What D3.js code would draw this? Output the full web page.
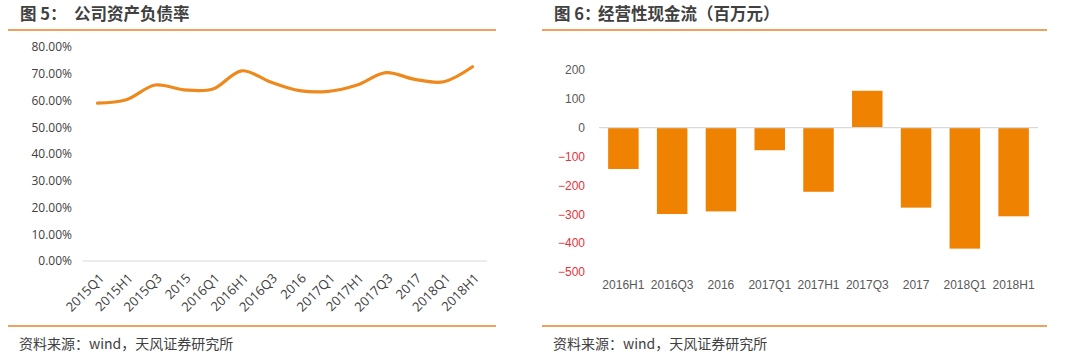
<!DOCTYPE html>
<html><head><meta charset="utf-8">
<script src="https://cdn.jsdelivr.net/npm/d3@7"></script>
<style>
html,body{margin:0;padding:0;background:#fff;}
svg{display:block;}
</style></head>
<body>
<svg id="chart" width="1080" height="357"></svg>
<script>
// ---- Data ----
const debtCategories = ["2015Q1","2015H1","2015Q3","2015","2016Q1","2016H1","2016Q3","2016","2017Q1","2017H1","2017Q3","2017","2018Q1","2018H1"];
const debtRatio = [0.590, 0.603, 0.658, 0.640, 0.643, 0.711, 0.669, 0.637, 0.634, 0.658, 0.704, 0.679, 0.670, 0.726];
const debtTicks = [0, 0.1, 0.2, 0.3, 0.4, 0.5, 0.6, 0.7, 0.8];

const cashCategories = ["2016H1","2016Q3","2016","2017Q1","2017H1","2017Q3","2017","2018Q1","2018H1"];
const cashFlow = [-143, -299, -290, -78, -222, 128, -277, -419, -307];
const cashTicks = [200, 100, 0, -100, -200, -300, -400, -500];

const titles = [
  {a:"图 5：", b:"公司资产负债率"},
  {a:"图 6：", b:"经营性现金流（百万元）"}
];
const sourceText = "资料来源：wind，天风证券研究所";

// ---- Drawing ----
const svg = d3.select("#chart");
svg.append("rect").attr("width",1080).attr("height",357).attr("fill","#fff");

const cjk = "'Noto Sans CJK SC', 'Noto Sans', sans-serif";
const lineOrange = "#F0A160";

const panels = [
  {x0:8, x1:496, tx:20, tb:74},
  {x0:542, x1:1047, tx:554, tb:598}
];
panels.forEach((p,i)=>{
  const t = svg.append("text").attr("x",p.tx).attr("y",20)
    .attr("font-family",cjk).attr("font-size",16.5).attr("font-weight","bold").attr("fill","#404040");
  t.append("tspan").text(titles[i].a);
  t.append("tspan").attr("x",p.tb).text(titles[i].b);
  svg.append("line").attr("x1",p.x0).attr("x2",p.x1).attr("y1",30).attr("y2",30)
    .attr("stroke",lineOrange).attr("stroke-width",2);
  svg.append("line").attr("x1",p.x0).attr("x2",p.x1).attr("y1",326).attr("y2",326)
    .attr("stroke",lineOrange).attr("stroke-width",2);
  svg.append("text").attr("x",p.tx-1).attr("y",349)
    .attr("font-family",cjk).attr("font-size",14).attr("fill","#404040").text(sourceText);
});

// ---- Left: line chart ----
const xL = d3.scalePoint().domain(debtCategories).range([97.5,472.5]);
const yL = d3.scaleLinear().domain([0,0.8]).range([261,47]);

const gL = svg.append("g");
gL.append("line").attr("x1",83).attr("x2",487).attr("y1",yL(0)).attr("y2",yL(0))
  .attr("stroke","#d9d9d9").attr("stroke-width",1.2);

const yAxisL = d3.axisLeft(yL).tickValues(debtTicks).tickFormat(d3.format(".2%")).tickSize(0).tickPadding(0);
const gyL = gL.append("g").attr("transform","translate(72,0)").call(yAxisL);
gyL.select(".domain").remove();
gyL.selectAll("text").attr("font-family","'Open Sans', sans-serif").attr("font-size",12).attr("fill","#404040");

const xAxisL = d3.axisBottom(xL).tickSize(0).tickPadding(0);
const gxL = gL.append("g").attr("transform","translate(0,"+yL(0)+")").call(xAxisL);
gxL.select(".domain").remove();
gxL.selectAll("text")
  .attr("font-family","'Open Sans', sans-serif").attr("font-size",13).attr("fill","#404040")
  .attr("text-anchor","end").attr("dy",0)
  .attr("transform","translate(7,18) rotate(-45)");

const lineGen = d3.line().x((d,i)=>xL(debtCategories[i])).y(d=>yL(d)).curve(d3.curveCatmullRom.alpha(0.5));
gL.append("path").datum(debtRatio).attr("d",lineGen)
  .attr("fill","none").attr("stroke","#EE8A1D").attr("stroke-width",3.2).attr("stroke-linecap","round");

// ---- Right: bar chart ----
const xR = d3.scaleBand().domain(cashCategories).range([599,1038]).paddingInner(0.375).paddingOuter(0.1875);
const yR = d3.scaleLinear().domain([-500,200]).range([272,70]);
const gR = svg.append("g");

gR.selectAll("rect.bar").data(cashFlow).enter().append("rect").attr("class","bar")
  .attr("x",(d,i)=>xR(cashCategories[i]))
  .attr("width",xR.bandwidth())
  .attr("y",d=>yR(Math.max(0,d)))
  .attr("height",d=>Math.abs(yR(d)-yR(0)))
  .attr("fill","#EF8200");

gR.append("line").attr("x1",599).attr("x2",1038).attr("y1",yR(0)).attr("y2",yR(0))
  .attr("stroke","#d9d9d9").attr("stroke-width",1.2);

const yAxisR = d3.axisLeft(yR).tickValues(cashTicks).tickFormat(d3.format("d")).tickSize(0).tickPadding(0);
const gyR = gR.append("g").attr("transform","translate(585,0)").call(yAxisR);
gyR.select(".domain").remove();
gyR.selectAll("text").attr("font-family","'Liberation Sans', Arial, sans-serif").attr("font-size",12)
  .attr("fill",d=>d<0?"#E5323C":"#595959");

const xAxisR = d3.axisBottom(xR).tickSize(0).tickPadding(0);
const gxR = gR.append("g").attr("transform","translate(0,285)").call(xAxisR);
gxR.select(".domain").remove();
gxR.selectAll("text").attr("font-family","'Liberation Sans', Arial, sans-serif").attr("font-size",12)
  .attr("fill","#595959").attr("dy","0.35em");
</script>
</body></html>
